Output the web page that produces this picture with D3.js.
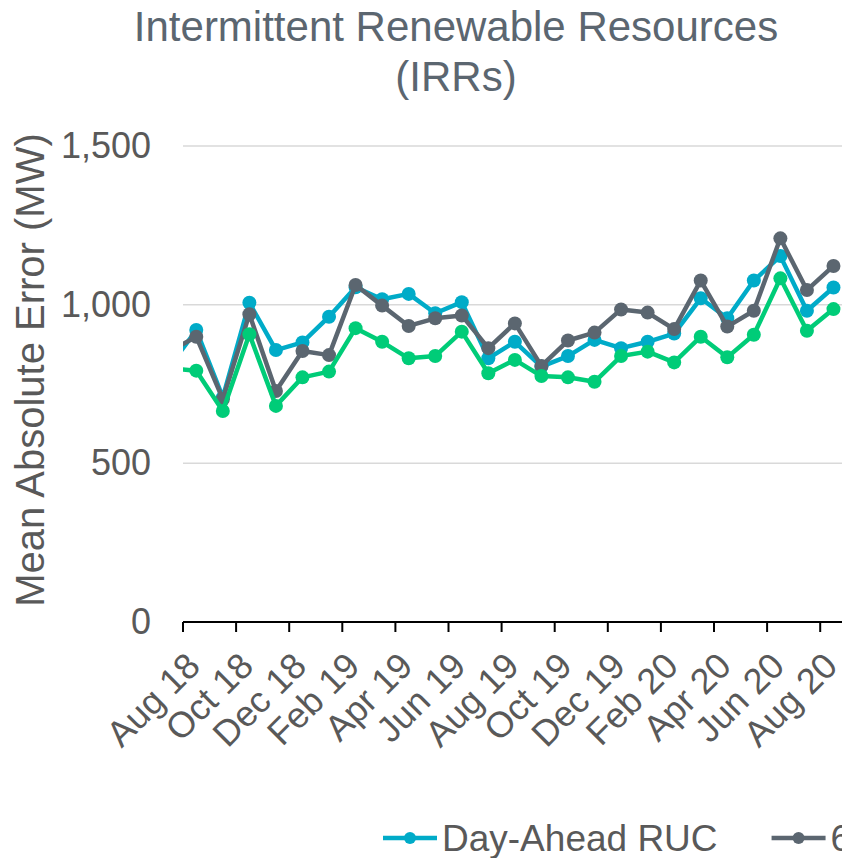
<!DOCTYPE html>
<html lang="en">
  <head>
    <meta charset="utf-8" />
    <title>Intermittent Renewable Resources (IRRs)</title>
    <script src="https://d3js.org/d3.v7.min.js"></script>
    <style>
      body { margin: 0; background: #fff; }
      text { font-family: "Liberation Sans", Arial, sans-serif; }
    </style>
  </head>
  <body>
    <script>
      // Chart data (Jul 18 sits just left of the plot and is clipped)
      const months = ["Jul 18", "Aug 18", "Sep 18", "Oct 18", "Nov 18", "Dec 18", "Jan 19",
        "Feb 19", "Mar 19", "Apr 19", "May 19", "Jun 19", "Jul 19", "Aug 19", "Sep 19",
        "Oct 19", "Nov 19", "Dec 19", "Jan 20", "Feb 20", "Mar 20", "Apr 20", "May 20",
        "Jun 20", "Jul 20", "Aug 20"];
      const dayAhead = [805, 920, 708, 1006, 857, 881, 962, 1055, 1017, 1034, 973, 1008, 831,
        883, 805, 838, 889, 863, 883, 909, 1020, 957, 1076, 1153, 981, 1054];
      const sixHour = [853, 899, 702, 970, 728, 854, 841, 1062, 997, 933, 957, 966, 863,
        941, 807, 887, 912, 985, 975, 923, 1076, 931, 981, 1209, 1046, 1122];
      const hourAhead = [800, 792, 665, 907, 681, 771, 789, 926, 883, 831, 838, 915, 784,
        826, 775, 771, 757, 838, 852, 818, 899, 834, 905, 1083, 918, 986];
      const seriesNames = ["Day-Ahead RUC", "6-Hour Ahead RUC", "Hour-Ahead RUC"];
      const seriesColors = ["#00abc8", "#5b6670", "#00cc78"];
      const yTicks = [0, 500, 1000, 1500];
      const firstShown = "Aug 18";

      const W = 842, H = 858;
      const plotLeft = 183, plotTop = 146, plotBottom = 622;
      const monthStep = 26.55;
      const shownCount = months.length - months.indexOf(firstShown);

      const svg = d3.select("body").append("svg")
        .attr("width", W).attr("height", H);

      // month index relative to the first shown month
      const offset = months.indexOf(firstShown);
      const x = d3.scaleLinear()
        .domain([-0.5, shownCount - 0.5])
        .range([plotLeft, plotLeft + shownCount * monthStep]);
      const y = d3.scaleLinear().domain([0, 1500]).range([plotBottom, plotTop]);

      svg.append("defs").append("clipPath").attr("id", "plot")
        .append("rect")
        .attr("x", plotLeft).attr("y", 0)
        .attr("width", shownCount * monthStep + 20).attr("height", H);

      // title
      const title = svg.append("text")
        .attr("text-anchor", "middle")
        .attr("font-size", 42)
        .attr("fill", "#5b6670");
      title.append("tspan").attr("x", 456).attr("y", 41).text("Intermittent Renewable Resources");
      title.append("tspan").attr("x", 456).attr("y", 91).text("(IRRs)");

      // gridlines
      svg.append("g").selectAll("line")
        .data(yTicks.filter(d => d > 0))
        .join("line")
        .attr("x1", plotLeft).attr("x2", W)
        .attr("y1", d => y(d)).attr("y2", d => y(d))
        .attr("stroke", "#d9d9d9").attr("stroke-width", 1.5);

      // y axis labels
      const yAxis = svg.append("g")
        .attr("transform", `translate(${plotLeft},0)`)
        .call(d3.axisLeft(y).tickValues(yTicks).tickSize(0).tickPadding(32)
          .tickFormat(d3.format(",")));
      yAxis.select(".domain").remove();
      yAxis.selectAll("text")
        .attr("font-size", 36)
        .attr("font-family", "'Liberation Sans', Arial, sans-serif")
        .attr("fill", "#595959");

      svg.append("text")
        .attr("transform", "translate(44,370) rotate(-90)")
        .attr("text-anchor", "middle")
        .attr("font-size", 40)
        .attr("fill", "#595959")
        .text("Mean Absolute Error  (MW)");

      // x axis
      const boundaries = d3.range(-0.5, shownCount, 2);
      svg.append("line")
        .attr("x1", plotLeft).attr("x2", W)
        .attr("y1", plotBottom).attr("y2", plotBottom)
        .attr("stroke", "#000").attr("stroke-width", 2);
      svg.append("g").selectAll("line")
        .data(boundaries)
        .join("line")
        .attr("x1", d => x(d)).attr("x2", d => x(d))
        .attr("y1", plotBottom).attr("y2", plotBottom + 10)
        .attr("stroke", "#000").attr("stroke-width", 2);

      const labelIdx = d3.range(0, shownCount, 2);
      svg.append("g").selectAll("text")
        .data(labelIdx)
        .join("text")
        .attr("text-anchor", "end")
        .attr("font-size", 36)
        .attr("fill", "#595959")
        .attr("transform", d => `translate(${x(d) + 6},668) rotate(-45)`)
        .text(d => months[d + offset]);

      // series
      const allSeries = [dayAhead, sixHour, hourAhead];
      const line = d3.line()
        .x((d, i) => x(i - offset))
        .y(d => y(d));
      const plot = svg.append("g").attr("clip-path", "url(#plot)");
      allSeries.forEach((vals, s) => {
        const g = plot.append("g");
        g.append("path")
          .datum(vals)
          .attr("d", line)
          .attr("fill", "none")
          .attr("stroke", seriesColors[s])
          .attr("stroke-width", 4.5)
          .attr("stroke-linejoin", "round");
        g.selectAll("circle")
          .data(vals)
          .join("circle")
          .attr("cx", (d, i) => x(i - offset))
          .attr("cy", d => y(d))
          .attr("r", 7)
          .attr("fill", seriesColors[s]);
      });

      // legend
      let lx = 383;
      const ly = 838;
      seriesNames.forEach((name, s) => {
        const g = svg.append("g");
        g.append("line")
          .attr("x1", lx).attr("x2", lx + 54)
          .attr("y1", ly).attr("y2", ly)
          .attr("stroke", seriesColors[s]).attr("stroke-width", 4.5);
        g.append("circle")
          .attr("cx", lx + 27).attr("cy", ly).attr("r", 6)
          .attr("fill", seriesColors[s]);
        const t = g.append("text")
          .attr("x", lx + 59).attr("y", ly + 13)
          .attr("font-size", 37)
          .attr("fill", "#595959")
          .text(name);
        lx += 59 + t.node().getComputedTextLength() + 54;
      });
    </script>
  </body>
</html>
